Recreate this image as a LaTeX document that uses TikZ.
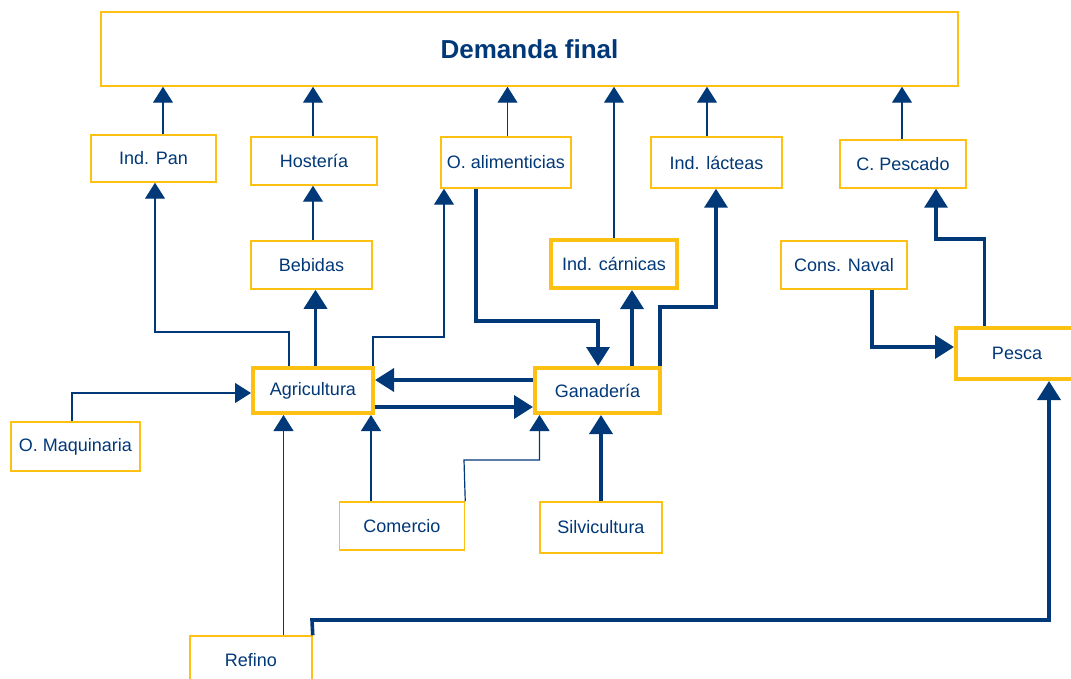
\documentclass[tikz,border=0pt]{standalone}
\usepackage{fontspec}
\setmainfont{Liberation Sans}
\usetikzlibrary{arrows.meta}
\definecolor{navy}{RGB}{0,56,120}
\definecolor{gold}{RGB}{255,192,20}
\tikzset{
  box/.style={draw=gold, line width=1.5pt, fill=white, inner sep=0pt, text=navy,
    font=\fontsize{18}{21}\selectfont},
  bigbox/.style={box, line width=4pt},
  thinarr/.style={draw=navy, line width=1.2pt, -{Triangle[width=20pt,length=16pt]}},
  thickarr/.style={draw=navy, line width=3.6pt, -{Triangle[width=23pt,length=19pt]}},
}
\begin{document}
\begin{tikzpicture}[x=1pt,y=-1pt]
\useasboundingbox (0,0) rectangle (1071,679);
% nodes
\node[box, minimum width=857pt, minimum height=74pt, font=\bfseries\fontsize{26}{30}\selectfont] (demanda) at (529.5,49) {Demanda final};
\node[box, minimum width=125pt, minimum height=47pt] (indpan) at (153.5,158.5) {Ind. Pan};
\node[box, minimum width=126pt, minimum height=48pt] (hosteria) at (314,161) {Hostería};
\node[box, minimum width=130pt, minimum height=51pt] (oalim) at (506,162.5) {O. alimenticias};
\node[box, minimum width=131pt, minimum height=51pt] (indlact) at (716.5,162.5) {Ind. lácteas};
\node[box, minimum width=126pt, minimum height=48pt] (cpescado) at (903,164) {C. Pescado};
\node[box, minimum width=121pt, minimum height=48pt] (bebidas) at (311.5,265) {Bebidas};
\node[bigbox, minimum width=126pt, minimum height=48pt] (indcarn) at (614,264) {Ind. cárnicas};
\node[box, minimum width=126pt, minimum height=48pt] (consnaval) at (844,265) {Cons. Naval};
\node[bigbox, minimum width=122pt, minimum height=51pt] (pesca) at (1017,353.5) {Pesca};
\node[bigbox, minimum width=120pt, minimum height=45pt] (agri) at (313,390.5) {Agricultura};
\node[bigbox, minimum width=125pt, minimum height=45pt] (gan) at (597.5,390.5) {Ganadería};
\node[box, minimum width=129pt, minimum height=49pt] (omaq) at (75.5,446.5) {O. Maquinaria};
\node[box, minimum width=125pt, minimum height=48pt] (comercio) at (402,526) {Comercio};
\node[box, minimum width=122pt, minimum height=51pt] (silvi) at (601,527.5) {Silvicultura};
\node[box, minimum width=122pt, minimum height=47pt, text depth=0pt] (refino) at (251,659.5) {Refino};
% connectors to Demanda final
\draw[thinarr] (163,0 |- indpan.north) -- (163,0 |- demanda.south);
\draw[thinarr] (313,0 |- hosteria.north) -- (313,0 |- demanda.south);
\draw[thinarr] (507.5,0 |- oalim.north) -- (507.5,0 |- demanda.south);
\draw[thinarr] (indcarn.north) -- (indcarn.north |- demanda.south);
\draw[thinarr] (707,0 |- indlact.north) -- (707,0 |- demanda.south);
\draw[thinarr] (902,0 |- cpescado.north) -- (902,0 |- demanda.south);
% middle
\draw[thinarr] (313,0 |- bebidas.north) -- (313,0 |- hosteria.south);
\draw[thickarr] (315.5,0 |- agri.north) -- (315.5,0 |- bebidas.south);
\draw[thinarr] (289,0 |- agri.north) -- (289,332) -- (155,332) -- (155,0 |- indpan.south);
\draw[thinarr] (373,0 |- agri.north) -- (373,337) -- (444,337) -- (444,0 |- oalim.south);
\draw[thickarr] (476,0 |- oalim.south) -- (476,321) -- (598,321) -- (598,0 |- gan.north);
\draw[thickarr] (0,380 -| gan.west) -- (0,380 -| agri.east);
\draw[thickarr] (0,407 -| agri.east) -- (0,407 -| gan.west);
\draw[thickarr] (632,0 |- gan.north) -- (632,0 |- indcarn.south);
\draw[thickarr] (660,0 |- gan.north) -- (660,307) -- (716,307) -- (716,0 |- indlact.south);
\draw[thinarr] (72,0 |- omaq.north) -- (72,393) -- (0,393 -| agri.west);
\draw[thinarr] (283.5,0 |- refino.north) -- (283.5,0 |- agri.south);
\draw[thinarr] (371,0 |- comercio.north) -- (371,0 |- agri.south);
\draw[thinarr] (comercio.north east) -- (464,460) -- (539.5,460) -- (539.5,0 |- gan.south);
\draw[thickarr] (601,0 |- silvi.north) -- (601,0 |- gan.south);
% right side
\draw[thickarr] (872,0 |- consnaval.south) -- (872,347) -- (0,347 -| pesca.west);
\draw[thickarr] (984.5,0 |- pesca.north) -- (984.5,239) -- (936,239) -- (936,0 |- cpescado.south);
\draw[thickarr] (refino.north east) -- (312,620) -- (1049,620) -- (1049,0 |- pesca.south);
\end{tikzpicture}
\end{document}
